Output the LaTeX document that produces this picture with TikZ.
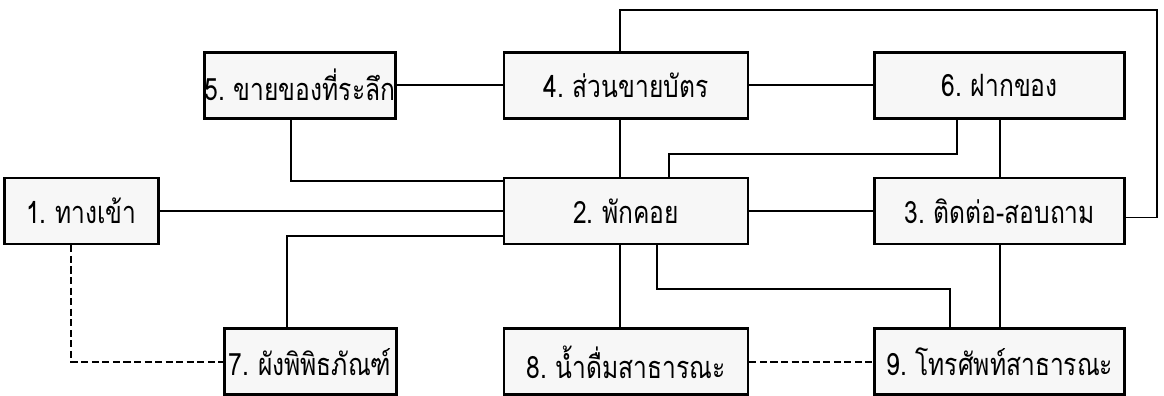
\documentclass[tikz,border=0pt]{standalone}
\usepackage{fontspec}
\newfontfamily\thaifont[Script=Thai,FakeStretch=0.8,WordSpace=0.7]{Loma}
\usetikzlibrary{positioning,calc}
\tikzset{
  blk/.style={draw,rectangle,minimum height=1.32cm,inner sep=0pt,line width=1.6pt,fill=gray!6,font=\fontsize{17.5}{21}\selectfont\thaifont},
  colc/.style={blk,minimum width=4.88cm},
  cold/.style={blk,minimum width=5.0cm},
  ln/.style={line width=1.1pt},
  dln/.style={line width=0.8pt,dash pattern=on 4pt off 2pt}
}
\begin{document}
\begin{tikzpicture}[node distance=1.14cm and 2.48cm]
  \useasboundingbox (0,0) rectangle (23.28,-7.92);
  \node[colc] (rest) at (12.52,-4.22) {2. พักคอย};
  \node[colc,above=of rest] (tick) {4. ส่วนขายบัตร};
  \node[colc,below=1.64cm of rest] (wat) {8. น้ำดื่มสาธารณะ};
  \node[cold,right=of rest] (info) {3. ติดต่อ-สอบถาม};
  \node[cold,right=of tick] (lock) {6. ฝากของ};
  \node[cold,right=of wat] (tel) {9. โทรศัพท์สาธารณะ};
  \node[blk,minimum width=3.8cm,left=2.12cm of tick] (souv) {5. ขายของที่ระลึก};
  \node[blk,minimum width=3.08cm,left=6.86cm of rest] (entr) {1. ทางเข้า};
  \node[blk,minimum width=3.44cm,left=2.1cm of wat] (plan) {7. ผังพิพิธภัณฑ์};

  \coordinate (rt) at (23.14,-0.2);
  \draw[ln] (souv) -- (tick);
  \draw[ln] (tick) -- (lock);
  \draw[ln] (entr) -- (rest);
  \draw[ln] (rest) -- (info);
  \draw[ln] ([xshift=-0.18cm]souv.south) |- ([yshift=-0.08cm]rest.north west);
  \draw[ln] ([xshift=-0.46cm]plan.north) |- ([yshift=0.18cm]rest.south west);
  \draw[ln] ([xshift=-0.12cm]tick.south) -- ([xshift=-0.12cm]rest.north);
  \draw[ln] ([xshift=-0.12cm]tick.north) |- (rt) |- ([yshift=-0.13cm]info.east);
  \draw[ln] ([xshift=-0.85cm]lock.south) -- ++(0,-0.68) -| ([xshift=0.86cm]rest.north);
  \draw[ln] (lock.south) -- (lock.south |- info.north);
  \draw[ln] ([xshift=-0.12cm]rest.south) -- ([xshift=-0.12cm]wat.north);
  \draw[ln] ([xshift=0.62cm]rest.south) -- ++(0,-0.88) -| ([xshift=-1.0cm]tel.north);
  \draw[ln] (info.south) -- (info.south |- tel.north);
  \draw[dln] (wat) -- (tel);
  \draw[dln] ([xshift=-0.2cm]entr.south) |- (plan.west);
\end{tikzpicture}
\end{document}
